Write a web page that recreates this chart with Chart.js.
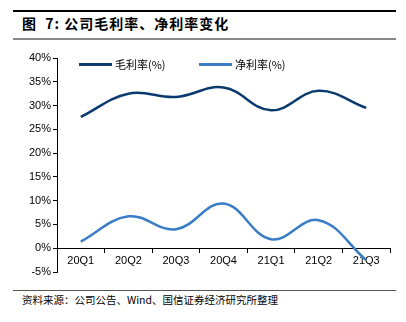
<!DOCTYPE html>
<html>
<head>
<meta charset="utf-8">
<script src="https://cdn.jsdelivr.net/npm/chart.js@4.4.1/dist/chart.umd.min.js"></script>
<style>
  body { margin: 0; background: #fff; width: 406px; height: 322px; position: relative; overflow: hidden; font-family: "Liberation Sans", Arial, sans-serif; }
  .rule { position: absolute; left: 13px; width: 383px; }
  #title { position: absolute; left: 22px; top: 13px; font: bold 14px "Noto Sans CJK SC", sans-serif; color: #000; letter-spacing: 1px; white-space: pre; }
  #source { position: absolute; left: 22px; top: 292px; font: 10.5px "Noto Sans CJK SC", sans-serif; color: #000; }
  #chartBox { position: absolute; left: 0; top: 40px; width: 406px; height: 250px; }
  .legend { position: absolute; top: 56px; font: 11px "Noto Sans CJK SC", sans-serif; color: #000; display: flex; align-items: center; }
  .legend span.ln { display: inline-block; width: 33px; height: 3px; margin-right: 3px; }
</style>
</head>
<body>
<div class="rule" style="top:10px;height:2px;background:#000"></div>
<div id="title">图  7: 公司毛利率、净利率变化</div>
<div class="rule" style="top:38px;height:2px;background:#888"></div>
<div id="chartBox"><canvas id="chart"></canvas></div>
<div class="legend" style="left:79px"><span class="ln" style="background:#0b3a6e"></span>毛利率(%)</div>
<div class="legend" style="left:199px"><span class="ln" style="background:#3a7dc6"></span>净利率(%)</div>
<div class="rule" style="top:290px;height:1px;background:#555"></div>
<div id="source">资料来源：公司公告、Wind、国信证券经济研究所整理</div>
<script>
const quarters = ["20Q1", "20Q2", "20Q3", "20Q4", "21Q1", "21Q2", "21Q3"];
const grossMargin = [27.6, 32.5, 31.8, 33.8, 29.0, 33.1, 29.5];
const netMargin = [1.4, 6.7, 4.0, 9.4, 1.9, 5.9, -2.5];
const yTicks = [-5, 0, 5, 10, 15, 20, 25, 30, 35, 40];

new Chart(document.getElementById("chart"), {
  type: "line",
  data: {
    labels: quarters,
    datasets: [
      { label: "毛利率(%)", data: grossMargin, borderColor: "#0b3a6e", borderWidth: 2.5, tension: 0.4, pointRadius: 0 },
      { label: "净利率(%)", data: netMargin, borderColor: "#3a7dc6", borderWidth: 2.5, tension: 0.4, pointRadius: 0 },
    ],
  },
  options: {
    responsive: true,
    maintainAspectRatio: false,
    animation: false,
    layout: { padding: { top: 18, right: 16, bottom: 18, left: 0 } },
    plugins: { legend: { display: false }, tooltip: { enabled: false } },
    scales: {
      x: {
        position: { y: 0 },
        offset: true,
        grid: { display: true, drawOnChartArea: false, offset: true, color: "#000", tickLength: 4, tickColor: "#000" },
        border: { color: "#000", width: 1 },
        ticks: { color: "#000", font: { family: "Liberation Sans", size: 11 }, padding: 2, maxRotation: 0 },
      },
      y: {
        min: yTicks[0],
        max: yTicks[yTicks.length - 1],
        afterFit: (s) => { s.width = 57; },
        afterBuildTicks: (s) => { s.ticks = yTicks.map((v) => ({ value: v })); },
        grid: { display: true, drawOnChartArea: false, color: "#000", tickLength: 4, tickColor: "#000" },
        border: { color: "#000", width: 1 },
        ticks: { color: "#000", font: { family: "Liberation Sans", size: 11 }, padding: 2, callback: (v) => v + "%" },
      },
    },
  },
});
</script>
</body>
</html>
